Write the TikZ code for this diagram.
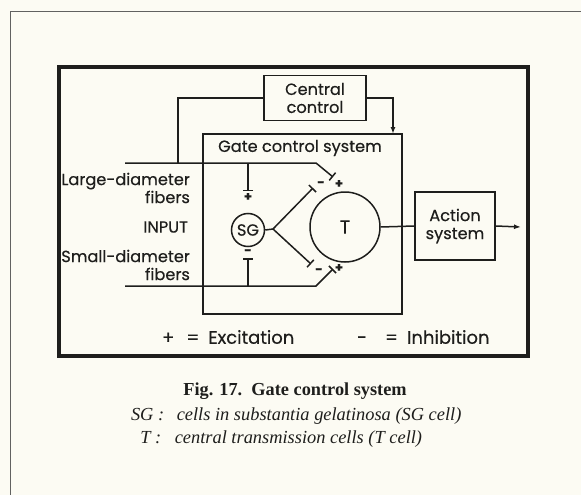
\documentclass[tikz,border=0pt]{standalone}
\usepackage{fontspec}
\setmainfont{Liberation Serif}
\newfontfamily\diagfont[FakeBold=0.4]{Poppins}
\usetikzlibrary{arrows.meta,positioning}
\definecolor{ink}{RGB}{30,30,28}
\definecolor{paper}{RGB}{252,251,243}

\begin{document}
\begin{tikzpicture}[x=1pt, y=-1pt, line width=1.5pt, color=ink, every node/.style={font=\diagfont\fontsize{16.2}{18}\selectfont}]
\tikzset{box/.style={draw, line width=1.5pt, inner sep=0pt, align=center}}
\tikzset{cell/.style={draw, circle, line width=1.5pt, inner sep=0pt}}
\tikzset{term/.style={-{Bar[width=10pt]}}}
\tikzset{arr/.style={-{Latex[length=7pt,width=5pt]}}}
\tikzset{sign/.style={font=\diagfont\bfseries\fontsize{13}{13}\selectfont, inner sep=0pt}}
\tikzset{legendline/.style={font=\fontsize{18.4}{20}\selectfont\itshape, inner sep=0pt, anchor=base west}}
\fill[paper] (0,0) rectangle (581,495);
\useasboundingbox (0,0) rectangle (581,495);
\draw[line width=0.9pt, ink!70] (581,11) -- (10,11) -- (10,495);
\draw[line width=3.6pt] (59,67) rectangle (528,356);
\node[box, minimum width=102pt, minimum height=45pt] (cc) at (315,98) {Central\\control};
\node[box, minimum width=199pt, minimum height=180pt] (gate) at (302.5,224) {};
\node (gtitle) at (300,148) {Gate control system};
\node[cell, minimum size=33pt] (sg) at (248,230) {SG};
\node[cell, minimum size=70pt, font=\diagfont\fontsize{19}{19}\selectfont] (t) at (345,227) {T};
\node[box, minimum width=80pt, minimum height=68pt] (act) at (455,226) {Action\\system};
\coordinate (jC) at (178,163);
\coordinate (gIn) at (393,134);
\coordinate (lf0) at (125,163);
\coordinate (lfk) at (316,163);
\coordinate (lfT) at (333,177);
\coordinate (sf0) at (125,286);
\coordinate (sfk) at (316,286);
\coordinate (sfT) at (333,269);
\coordinate (jL) at (248,163);
\coordinate (jS) at (248,286);
\coordinate (sgIn1) at (248,191);
\coordinate (sgIn2) at (248,258);
\coordinate (fork) at (273,229);
\coordinate (tIn1) at (313,188);
\coordinate (tIn2) at (311,264);
\coordinate (out) at (521,227);
\draw (cc.west) -| (jC);
\draw[arr] (cc.east) -| (gIn);
\draw[term] (lf0) -- (lfk) -- (lfT);
\draw[term] (sf0) -- (sfk) -- (sfT);
\draw[term] (jL) -- (sgIn1);
\draw[term] (jS) -- (sgIn2);
\draw (sg.east) -- (fork);
\draw[term] (fork) -- (tIn1);
\draw[term] (fork) -- (tIn2);
\draw (t.east) -- (act.west);
\draw[arr] (act.east) -- (out);
\node[sign] (p1) at (248,197) {+};
\node[sign] (m1) at (248,252) {-};
\node[sign] (m2) at (321,184) {-};
\node[sign] (p2) at (339,184) {+};
\node[sign] (m3) at (319,271) {-};
\node[sign] (p3) at (339,268) {+};
\node[anchor=east, align=right] (large) at (194,188) {Large-diameter\\fibers};
\node[anchor=east] (input) at (192,227) {INPUT};
\node[anchor=east, align=right] (small) at (194,265) {Small-diameter\\fibers};
\node[anchor=west, font=\diagfont\fontsize{18}{18}\selectfont] (exc) at (158,337) {+\hspace{12pt}=\hspace{9pt}Excitation};
\node[anchor=west, font=\diagfont\fontsize{18}{18}\selectfont] (inh) at (353,337) {-\hspace{18pt}=\hspace{9pt}Inhibition};
\node[font=\fontsize{18.3}{20}\selectfont\bfseries, inner sep=0pt, anchor=base] (fig) at (295,395) {Fig. 17.\enspace Gate control system};
\node[legendline, anchor=base east] (sgkey) at (165,420) {SG :};
\node[legendline] (sgtxt) at (176,420) {cells in substantia gelatinosa (SG cell)};
\node[legendline, anchor=base east] (tkey) at (162,443) {T :};
\node[legendline] (ttxt) at (174,443) {central transmission cells (T cell)};
\end{tikzpicture}
\end{document}
